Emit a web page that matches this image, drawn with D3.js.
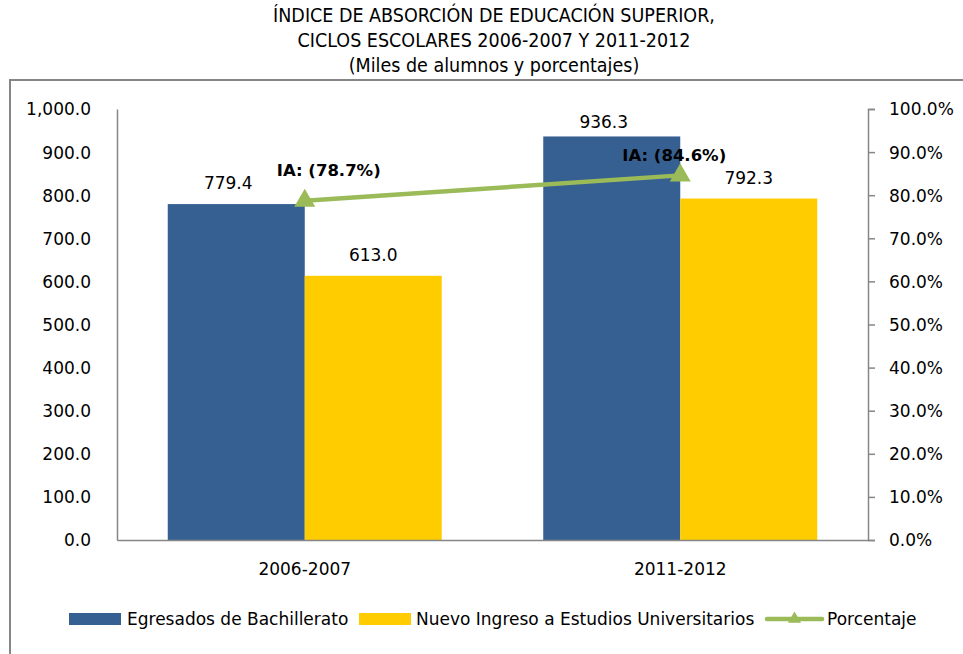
<!DOCTYPE html>
<html>
<head>
<meta charset="utf-8">
<script src="https://cdn.jsdelivr.net/npm/d3@7"></script>
<style>
  html, body { margin: 0; padding: 0; background: #fff; }
  svg { display: block; }
  text { font-family: "DejaVu Sans", sans-serif; fill: #000; }
</style>
</head>
<body>
<svg id="chart" width="963" height="654"></svg>
<script>
// Data
const categories = ["2006-2007", "2011-2012"];
const egresados = [779.4, 936.3];
const nuevoIngreso = [613.0, 792.3];
const porcentaje = [78.7, 84.6];
const leftTicks = [0, 100, 200, 300, 400, 500, 600, 700, 800, 900, 1000];
const rightTicks = [0, 10, 20, 30, 40, 50, 60, 70, 80, 90, 100];
const titleLines = [
  "ÍNDICE DE ABSORCIÓN DE EDUCACIÓN SUPERIOR,",
  "CICLOS ESCOLARES 2006-2007 Y 2011-2012",
  "(Miles de alumnos y porcentajes)"
];
const seriesNames = ["Egresados de Bachillerato", "Nuevo Ingreso a Estudios Universitarios", "Porcentaje"];

const colors = { blue: "#376092", yellow: "#FFCC00", green: "#9BBB59", axis: "#868686" };
const FONT = "'DejaVu Sans', sans-serif";
const FS = "17px";

const svg = d3.select("#chart");

// Title
svg.selectAll("text.title").data(titleLines).join("text")
  .attr("class", "title")
  .attr("x", 494).attr("y", (d, i) => 22 + i * 25)
  .attr("text-anchor", "middle")
  .style("font-family", "'DejaVu Sans Condensed', 'DejaVu Sans', sans-serif")
  .style("font-size", "19.5px")
  .text(d => d);

// Outer frame
svg.append("rect")
  .attr("x", 10).attr("y", 80).attr("width", 980).attr("height", 600)
  .attr("fill", "none").attr("stroke", colors.axis).attr("stroke-width", 2);

// Plot area
const plot = { left: 117, right: 868, top: 109, bottom: 540 };

const x = d3.scaleBand().domain(categories).range([plot.left, plot.right]);
const yL = d3.scaleLinear().domain([0, 1000]).range([plot.bottom, plot.top]);
const yR = d3.scaleLinear().domain([0, 100]).range([plot.bottom, plot.top]);

const barW = 137;
const fmt1 = d3.format(",.1f");
// value labels sit above the bar, but never above the plot's top edge
const labelY = v => Math.max(yL(v) - 15, plot.top + 19);

// Bars
const g = svg.append("g");
g.selectAll("rect.egr").data(categories).join("rect")
  .attr("x", d => x(d) + x.bandwidth() / 2 - barW)
  .attr("y", (d, i) => yL(egresados[i]))
  .attr("width", barW)
  .attr("height", (d, i) => plot.bottom - yL(egresados[i]))
  .attr("fill", colors.blue);
g.selectAll("rect.nuevo").data(categories).join("rect")
  .attr("x", d => x(d) + x.bandwidth() / 2)
  .attr("y", (d, i) => yL(nuevoIngreso[i]))
  .attr("width", barW)
  .attr("height", (d, i) => plot.bottom - yL(nuevoIngreso[i]))
  .attr("fill", colors.yellow);

// Bar value labels
g.selectAll("text.lblE").data(categories).join("text")
  .attr("x", d => x(d) + x.bandwidth() / 2 - barW / 2 - 8)
  .attr("y", (d, i) => labelY(egresados[i]))
  .attr("text-anchor", "middle").style("font-size", FS)
  .text((d, i) => fmt1(egresados[i]));
g.selectAll("text.lblN").data(categories).join("text")
  .attr("x", d => x(d) + x.bandwidth() / 2 + barW / 2)
  .attr("y", (d, i) => labelY(nuevoIngreso[i]))
  .attr("text-anchor", "middle").style("font-size", FS)
  .text((d, i) => fmt1(nuevoIngreso[i]));

// Left axis
const axL = svg.append("g").attr("transform", `translate(${plot.left},0)`)
  .call(d3.axisLeft(yL).tickValues(leftTicks).tickSize(0).tickPadding(26).tickFormat(fmt1));
axL.select(".domain").attr("stroke", colors.axis).attr("stroke-width", 1.5);
axL.selectAll("text").style("font-size", FS).style("font-family", FONT).attr("fill", "#000").attr("dy", "0.35em");

// Right axis
const axR = svg.append("g").attr("transform", `translate(${plot.right},0)`)
  .call(d3.axisRight(yR).tickValues(rightTicks).tickSize(7).tickPadding(14).tickFormat(d => d3.format(".1f")(d) + "%"));
axR.select(".domain").attr("stroke", colors.axis).attr("stroke-width", 1.5);
axR.selectAll("line").attr("stroke", colors.axis).attr("stroke-width", 1.5);
axR.selectAll("text").style("font-size", FS).style("font-family", FONT).attr("fill", "#000").attr("dy", "0.35em");

// Bottom axis
const axB = svg.append("g").attr("transform", `translate(0,${plot.bottom})`)
  .call(d3.axisBottom(x).tickSize(0).tickPadding(18));
axB.select(".domain").attr("stroke", colors.axis).attr("stroke-width", 1.5);
axB.selectAll("text").style("font-size", FS).style("font-family", FONT).attr("fill", "#000")
  .attr("y", 35).attr("dy", 0);

// Percentage line
const cx = d => x(d) + x.bandwidth() / 2;
const lineGen = d3.line().x(d => cx(d)).y((d, i) => yR(porcentaje[i]));
svg.append("path").datum(categories)
  .attr("d", lineGen)
  .attr("fill", "none").attr("stroke", colors.green).attr("stroke-width", 4.5);
const tri = d3.symbol().type(d3.symbolTriangle).size(190);
svg.selectAll("path.mk").data(categories).join("path")
  .attr("transform", (d, i) => `translate(${cx(d)},${yR(porcentaje[i])})`)
  .attr("d", tri).attr("fill", colors.green);
const iaOffset = [{ dx: 24, dy: -25 }, { dx: -6, dy: -14.5 }];
svg.selectAll("text.ia").data(categories).join("text")
  .attr("x", (d, i) => cx(d) + iaOffset[i].dx)
  .attr("y", (d, i) => yR(porcentaje[i]) + iaOffset[i].dy)
  .attr("text-anchor", "middle")
  .style("font-size", "16.5px").style("font-weight", "bold")
  .text((d, i) => `IA: (${porcentaje[i].toFixed(1)}%)`);

// Legend
const legY = 619;
const leg = svg.append("g");
leg.append("rect").attr("x", 69).attr("y", legY - 6).attr("width", 52).attr("height", 12).attr("fill", colors.blue);
leg.append("text").attr("x", 127).attr("y", legY + 6).style("font-size", FS).text(seriesNames[0]);
leg.append("rect").attr("x", 359).attr("y", legY - 6).attr("width", 52).attr("height", 12).attr("fill", colors.yellow);
leg.append("text").attr("x", 416).attr("y", legY + 6).style("font-size", FS).text(seriesNames[1]);
leg.append("line").attr("x1", 767).attr("x2", 822).attr("y1", legY).attr("y2", legY)
  .attr("stroke", colors.green).attr("stroke-width", 4.5).attr("stroke-linecap", "round");
leg.append("path").attr("transform", `translate(794.5,${legY})`).attr("d", d3.symbol().type(d3.symbolTriangle).size(75)).attr("fill", colors.green);
leg.append("text").attr("x", 827).attr("y", legY + 6).style("font-size", FS).text(seriesNames[2]);
</script>
</body>
</html>
